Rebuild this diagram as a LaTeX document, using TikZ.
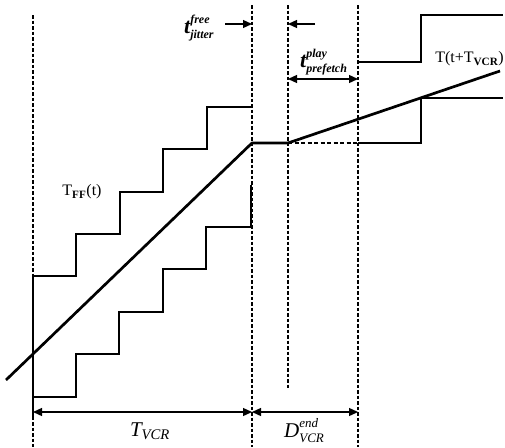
\documentclass[tikz,border=0pt]{standalone}
\usepackage{fontspec}
\setmainfont{Liberation Serif}
\usetikzlibrary{arrows.meta}
% base, scripts size, baselineskip, lowering, sup, sub
\newcommand{\stk}[6]{#1\raisebox{#4}{\fontsize{#2}{#3}\selectfont\begin{tabular}[b]{@{}l@{}}#5\\#6\end{tabular}}}
\begin{document}
\begin{tikzpicture}[x=1pt,y=-1pt,
  guide/.style={line width=1.3pt,dash pattern=on 3.5pt off 2pt},
  stair/.style={line width=1.4pt},
  curve/.style={line width=2.7pt,line join=round},
  dim/.style={line width=1.3pt,{Triangle[length=9pt,width=8pt]}-{Triangle[length=9pt,width=8pt]}},
  onearrow/.style={line width=1.3pt,-{Triangle[length=9pt,width=8pt]}},
  lbl/.style={inner sep=0pt,font=\fontsize{16}{19}\selectfont}]
\useasboundingbox (0,0) rectangle (505,447);
% guide lines
\coordinate (g1t) at (33,15);  \coordinate (g1b) at (33,447);
\coordinate (g2t) at (252,5);  \coordinate (g2b) at (252,447);
\coordinate (g3t) at (288,5);  \coordinate (g3b) at (288,388);
\coordinate (g4t) at (358,5);  \coordinate (g4b) at (358,447);
\draw[guide] (g1t) -- (g1b);
\draw[guide] (g2t) -- (g2b);
\draw[guide] (g3t) -- (g3b);
\draw[guide] (g4t) -- (g4b);
% upper staircase (left)
\draw[stair] (33,276) -- (76,276) -- (76,234) -- (120,234) -- (120,192) -- (163,192)
  -- (163,149) -- (207,149) -- (207,107) -- (252,107);
% lower staircase (left)
\draw[stair] (33,276) -- (33,397) -- (76,397) -- (76,354) -- (119,354) -- (119,312) -- (163,312)
  -- (163,269) -- (206,269) -- (206,227) -- (251,227) -- (251,185);
\draw[stair] (33,397) -- (33,420);
% right staircases
\draw[stair] (358,62) -- (421,62) -- (421,15) -- (503,15);
\draw[stair] (358,143) -- (421,143) -- (421,98) -- (503,98);
\draw[line width=1.3pt,dash pattern=on 4pt off 2.5pt] (288,143) -- (358,143);
% main curve
\coordinate (c0) at (6,380);
\coordinate (c1) at (252,143);
\coordinate (c2) at (288,143);
\coordinate (c3) at (500,71);
\draw[curve] (c0) -- (c1) -- (c2) -- (c3);
% dimension arrows
\coordinate (a1) at (33,412); \coordinate (a2) at (252,412); \coordinate (a3) at (358,412);
\draw[dim] (a1) -- (a2);
\draw[dim] (a2) -- (a3);
\coordinate (p1) at (288,79); \coordinate (p2) at (358,79);
\draw[dim] (p1) -- (p2);
\coordinate (j1) at (225,24); \coordinate (j2) at (252,24);
\coordinate (j3) at (315,24); \coordinate (j4) at (288,24);
\draw[onearrow] (j1) -- (j2);
\draw[onearrow] (j3) -- (j4);
% labels
\node[lbl] (tff) at (82,192) {T\textsubscript{\textbf{FF}}(t)};
\node[lbl,anchor=east] (tvcr) at (504,59) {T(t+T\textsubscript{\textbf{VCR}})};
\node[lbl,anchor=base west,font=\fontsize{22}{24}\selectfont\bfseries\itshape] (jit) at (184,33)
  {\stk{t}{12}{15}{-5pt}{free}{jitter}};
\node[lbl,anchor=base west,font=\fontsize{22}{24}\selectfont\bfseries\itshape] (pre) at (300,67)
  {\stk{t}{12}{15}{-5pt}{play}{prefetch}};
\node[lbl,font=\fontsize{21}{24}\selectfont\itshape] (lvcr) at (150,431) {T\textsubscript{VCR}};
\node[lbl,anchor=base west,font=\fontsize{21}{24}\selectfont\itshape] (ldvcr) at (284,437)
  {\stk{D}{13}{15}{-5pt}{end}{VCR}};
\end{tikzpicture}
\end{document}
